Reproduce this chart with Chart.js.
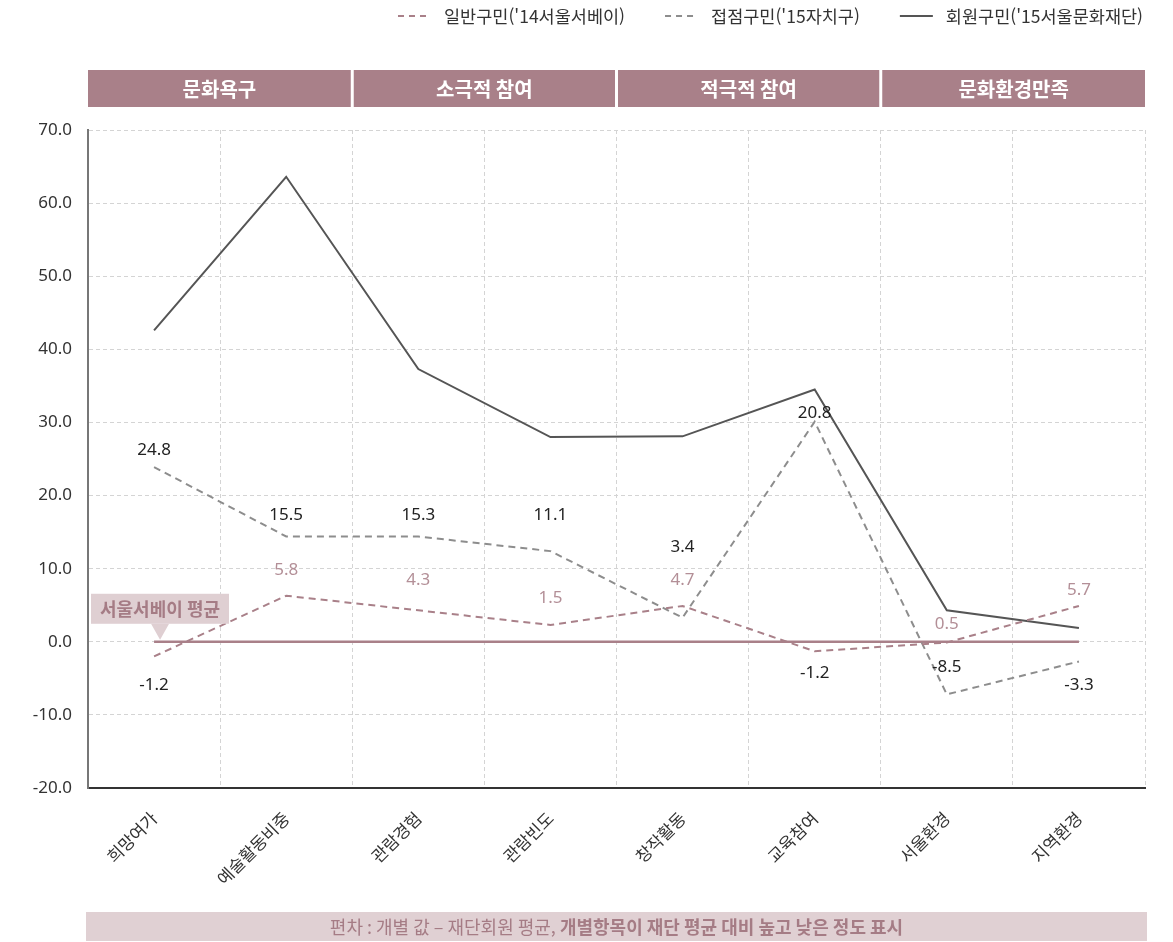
<!DOCTYPE html>
<html lang="ko">
<head>
<meta charset="utf-8">
<script src="https://cdn.jsdelivr.net/npm/chart.js@4.4.1/dist/chart.umd.min.js"></script>
<style>
html, body { margin: 0; padding: 0; background: #fff; }
#wrap { width: 1173px; height: 942px; }
</style>
</head>
<body>
<div id="wrap"><canvas id="chart" width="1173" height="942"></canvas></div>
<script>
// 항목
var categories = ['희망여가', '예술활동비중', '관람경험', '관람빈도', '창작활동', '교육참여', '서울환경', '지역환경'];
var groups = ['문화욕구', '소극적 참여', '적극적 참여', '문화환경만족'];
var seriesNames = ["일반구민('14서울서베이)", "접점구민('15자치구)", "회원구민('15서울문화재단)"];

// 선 값
var generalValues = [-2.0, 6.3, 4.3, 2.3, 4.9, -1.3, -0.1, 4.9];
var contactValues = [23.9, 14.4, 14.4, 12.4, 3.3, 30.1, -7.2, -2.7];
var memberValues = [42.6, 63.6, 37.3, 28.0, 28.1, 34.5, 4.3, 1.9];
var surveyAverage = [0, 0, 0, 0, 0, 0, 0, 0];

// 표시 숫자
var generalLabels = [-1.2, 5.8, 4.3, 1.5, 4.7, -1.2, 0.5, 5.7];
var contactLabels = [24.8, 15.5, 15.3, 11.1, 3.4, 20.8, -8.5, -3.3];

var yMin = -20, yMax = 70, yStep = 10;

var MAUVE = '#a98089';
var MAUVE_TEXT = '#b38f97';
var GRAY = '#8d8d8d';
var DARK = '#555555';

// 숫자 위치 보정 (px, 점 기준 세로)
var generalShift = [29, -26, -30, -27, -26, 22, -18, -16];
var contactShift = [-17, -21, -21, -36, -70, -9, -27, 24];

var decorations = {
    id: 'decorations',
    beforeDraw: function(chart) {
        var ctx = chart.ctx;
        var area = chart.chartArea;
        var step = (area.right - area.left) / categories.length;

        // 상단 구분 띠
        ctx.save();
        groups.forEach(function(name, i) {
            var x0 = area.left + i * 2 * step + (i > 0 ? 1.5 : 0);
            var x1 = area.left + (i + 1) * 2 * step - (i < groups.length - 1 ? 1.5 : 0);
            ctx.fillStyle = MAUVE;
            ctx.fillRect(x0, 70, x1 - x0, 37);
            ctx.fillStyle = '#fff';
            ctx.font = 'bold 20px "Noto Sans CJK KR"';
            ctx.textAlign = 'center';
            ctx.textBaseline = 'middle';
            ctx.fillText(name, (x0 + x1) / 2, 89);
        });

        // 하단 설명 띠
        ctx.fillStyle = '#e0d0d3';
        ctx.fillRect(area.left - 2, 912, area.right - area.left + 4, 29);
        var part1 = '편차 : 개별 값 – 재단회원 평균, ';
        var part2 = '개별항목이 재단 평균 대비 높고 낮은 정도 표시';
        ctx.font = '18px "Noto Sans CJK KR"';
        var w1 = ctx.measureText(part1).width;
        ctx.font = 'bold 18px "Noto Sans CJK KR"';
        var w2 = ctx.measureText(part2).width;
        var sx = (area.left + area.right) / 2 - (w1 + w2) / 2;
        ctx.fillStyle = '#a57c85';
        ctx.textAlign = 'left';
        ctx.textBaseline = 'middle';
        ctx.font = '18px "Noto Sans CJK KR"';
        ctx.fillText(part1, sx, 927);
        ctx.font = 'bold 18px "Noto Sans CJK KR"';
        ctx.fillText(part2, sx + w1, 927);
        ctx.restore();
    },
    afterDatasetsDraw: function(chart) {
        var ctx = chart.ctx;
        ctx.save();
        ctx.textAlign = 'center';
        ctx.textBaseline = 'middle';
        ctx.font = '17px "Noto Sans"';

        var gMeta = chart.getDatasetMeta(0);
        gMeta.data.forEach(function(pt, i) {
            var v = generalLabels[i];
            ctx.fillStyle = v < 0 ? '#222' : MAUVE_TEXT;
            ctx.fillText(v.toFixed(1), pt.x, pt.y + generalShift[i]);
        });
        var cMeta = chart.getDatasetMeta(1);
        cMeta.data.forEach(function(pt, i) {
            ctx.fillStyle = '#222';
            ctx.fillText(contactLabels[i].toFixed(1), pt.x, pt.y + contactShift[i]);
        });

        // 서울서베이 평균 말풍선
        var zero = chart.scales.y.getPixelForValue(0);
        var first = chart.getDatasetMeta(3).data[0];
        var cx = first.x + 6;
        ctx.fillStyle = '#dfcfd2';
        ctx.fillRect(91, zero - 48, 138, 30);
        ctx.beginPath();
        ctx.moveTo(cx - 9, zero - 18);
        ctx.lineTo(cx + 9, zero - 18);
        ctx.lineTo(cx, zero - 2);
        ctx.closePath();
        ctx.fill();
        ctx.fillStyle = '#a57c85';
        ctx.font = 'bold 18px "Noto Sans CJK KR"';
        ctx.fillText('서울서베이 평균', 160, zero - 33);
        ctx.restore();
    },
    afterDraw: function(chart) {
        // 범례
        var ctx = chart.ctx;
        var styles = [
            { color: MAUVE, dash: [6, 5] },
            { color: GRAY, dash: [6, 5] },
            { color: DARK, dash: [] }
        ];
        ctx.save();
        ctx.font = '17.5px "Noto Sans CJK KR"';
        ctx.textBaseline = 'middle';
        ctx.textAlign = 'left';
        var x = 1143;
        var y = 16;
        for (var i = seriesNames.length - 1; i >= 0; i--) {
            var tw = ctx.measureText(seriesNames[i]).width;
            x -= tw;
            ctx.fillStyle = '#333';
            ctx.fillText(seriesNames[i], x, y);
            ctx.strokeStyle = styles[i].color;
            ctx.lineWidth = 2;
            ctx.setLineDash(styles[i].dash);
            ctx.beginPath();
            ctx.moveTo(x - 46, y);
            ctx.lineTo(x - 13, y);
            ctx.stroke();
            x -= 46 + 40;
        }
        ctx.restore();
    }
};

new Chart(document.getElementById('chart'), {
    type: 'line',
    data: {
        labels: categories,
        datasets: [
            {
                label: seriesNames[0],
                data: generalValues,
                borderColor: MAUVE,
                borderWidth: 2,
                borderDash: [7, 5],
                pointRadius: 0,
                fill: false,
                tension: 0
            },
            {
                label: seriesNames[1],
                data: contactValues,
                borderColor: GRAY,
                borderWidth: 2,
                borderDash: [7, 5],
                pointRadius: 0,
                fill: false,
                tension: 0
            },
            {
                label: seriesNames[2],
                data: memberValues,
                borderColor: DARK,
                borderWidth: 2,
                pointRadius: 0,
                fill: false,
                tension: 0
            },
            {
                label: '서울서베이 평균',
                data: surveyAverage,
                borderColor: MAUVE,
                borderWidth: 2.5,
                pointRadius: 0,
                fill: false,
                order: 5
            }
        ]
    },
    options: {
        responsive: false,
        animation: false,
        devicePixelRatio: 1,
        layout: { padding: { top: 130, right: 28, bottom: 0, left: 0 } },
        plugins: {
            legend: { display: false },
            tooltip: { enabled: false }
        },
        scales: {
            x: {
                offset: true,
                grid: { offset: true, color: '#d4d4d4', drawTicks: false },
                border: { color: '#333', width: 2, dash: [4, 3] },
                ticks: {
                    minRotation: 45,
                    maxRotation: 45,
                    padding: 20,
                    color: '#333',
                    font: { family: '"Noto Sans CJK KR"', size: 17 }
                },
                afterFit: function(scale) { scale.height = 154; }
            },
            y: {
                min: yMin,
                max: yMax,
                ticks: {
                    stepSize: yStep,
                    padding: 16,
                    color: '#333',
                    font: { family: '"Noto Sans"', size: 17 },
                    callback: function(v) { return Number(v).toFixed(1); }
                },
                grid: { color: '#d4d4d4', drawTicks: false },
                border: { color: '#777', width: 2, dash: [4, 3] },
                afterFit: function(scale) { scale.width = 88; }
            }
        }
    },
    plugins: [decorations]
});
</script>
</body>
</html>
